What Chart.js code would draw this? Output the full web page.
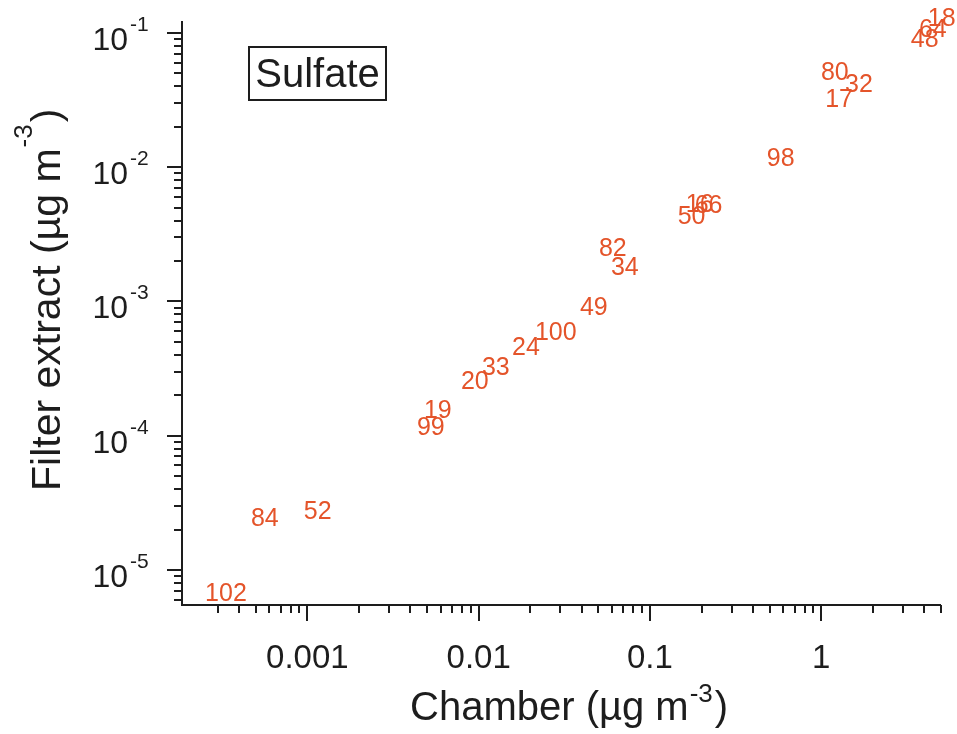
<!DOCTYPE html>
<html>
<head>
<meta charset="utf-8">
<title>Sulfate</title>
<script src="https://cdn.jsdelivr.net/npm/chart.js@4.4.1/dist/chart.umd.min.js"></script>
<style>
  html, body { margin: 0; padding: 0; background: #fff; }
  #wrap { width: 957px; height: 734px; }
</style>
</head>
<body>
<div id="wrap"><canvas id="sulfateChart" width="957" height="734"></canvas></div>
<script>
// run numbers, drawn as the markers themselves
const runIds = ['102', '84', '52', '99', '19', '20', '33', '24', '100', '49', '82',
                '34', '50', '16', '66', '98', '80', '32', '17', '48', '64', '18'];
// chamber concentration (ug m-3)
const chamber = [0.000335, 0.000565, 0.00115, 0.00526, 0.00578, 0.0095, 0.0126, 0.0189,
                 0.0282, 0.047, 0.0607, 0.0713, 0.175, 0.195, 0.22, 0.58, 1.2, 1.66,
                 1.27, 4.02, 4.48, 5.05];
// filter extract concentration (ug m-3)
const filterExtract = [6.74e-6, 2.44e-5, 2.75e-5, 1.16e-4, 1.56e-4, 2.56e-4, 3.25e-4,
                       4.58e-4, 5.93e-4, 9.1e-4, 2.5e-3, 1.81e-3, 4.33e-3, 5.32e-3,
                       5.23e-3, 1.17e-2, 5.12e-2, 4.17e-2, 3.22e-2, 9.02e-2, 0.107, 0.129];

const xTickValues = [0.001, 0.01, 0.1, 1];
const xTickLabels = ['0.001', '0.01', '0.1', '1'];
const yTickExponents = [-1, -2, -3, -4, -5];

const FONT = '"Liberation Sans", Arial, Helvetica, sans-serif';
const INK = '#1d1d1d';
const RUN_COLOR = 'rgb(228, 84, 42)';

function font(size) {
    return size + 'px ' + FONT;
}

// 1..9 x 10^n inside [min, max]
function logTicks(min, max) {
    const out = [];
    for (let e = Math.floor(Math.log10(min)); e <= Math.ceil(Math.log10(max)); e++) {
        for (let m = 1; m <= 9; m++) {
            const v = m * Math.pow(10, e);
            if (v >= min && v <= max) out.push({ value: v, major: m === 1 });
        }
    }
    return out;
}

// text with a raised "-3" and closing bracket, starting at (0, 0)
function unitTitle(ctx, text, size, supSize, supRise) {
    ctx.font = font(size);
    ctx.fillText(text, 0, 0);
    let x = ctx.measureText(text).width + 1;
    ctx.font = font(supSize);
    ctx.fillText('-3', x, -supRise);
    x += ctx.measureText('-3').width + 2;
    ctx.font = font(size);
    ctx.fillText(')', x, 0);
}

const axesPlugin = {
    id: 'igorAxes',
    afterDraw(chart) {
        const ctx = chart.ctx;
        const area = chart.chartArea;
        const xs = chart.scales.x;
        const ys = chart.scales.y;

        ctx.save();
        ctx.strokeStyle = INK;
        ctx.fillStyle = INK;
        ctx.lineWidth = 2;

        // axis lines
        ctx.beginPath();
        ctx.moveTo(area.left, area.top);
        ctx.lineTo(area.left, area.bottom + 1);
        ctx.moveTo(area.left - 1, area.bottom);
        ctx.lineTo(area.right, area.bottom);
        ctx.stroke();

        // tick marks
        ctx.beginPath();
        logTicks(ys.min, ys.max).forEach(t => {
            const py = Math.round(ys.getPixelForValue(t.value));
            const len = t.major ? 15 : 8;
            ctx.moveTo(area.left - len, py);
            ctx.lineTo(area.left, py);
        });
        logTicks(xs.min, xs.max).forEach(t => {
            const px = Math.round(xs.getPixelForValue(t.value));
            if (px < area.left + 8) return;
            const len = t.major ? 16 : 8;
            ctx.moveTo(px, area.bottom);
            ctx.lineTo(px, area.bottom + len);
        });
        ctx.stroke();

        // y tick labels: 10 with a raised exponent
        yTickExponents.forEach(e => {
            const py = ys.getPixelForValue(Math.pow(10, e));
            ctx.textBaseline = 'alphabetic';
            ctx.textAlign = 'right';
            ctx.font = font(32);
            ctx.fillText('10', area.left - 54, py + 17);
            ctx.textAlign = 'left';
            ctx.font = font(21);
            ctx.fillText('-' + Math.abs(e), area.left - 52, py - 2);
        });

        // x tick labels
        ctx.font = font(33);
        ctx.textAlign = 'center';
        xTickValues.forEach((v, i) => {
            ctx.fillText(xTickLabels[i], xs.getPixelForValue(v), 668);
        });

        ctx.textAlign = 'left';

        // x title
        ctx.save();
        ctx.translate(410, 720);
        unitTitle(ctx, 'Chamber (\u00b5g m', 40, 26, 18);
        ctx.restore();

        // y title, reading upward
        ctx.save();
        ctx.translate(60, 491);
        ctx.rotate(-Math.PI / 2);
        unitTitle(ctx, 'Filter extract (\u00b5g m', 41, 26, 28);
        ctx.restore();

        // species tag
        ctx.lineWidth = 2;
        ctx.strokeRect(249, 47, 137, 53);
        ctx.font = font(40);
        ctx.textAlign = 'center';
        ctx.fillText('Sulfate', 317.5, 87);

        ctx.restore();
    }
};

const runLabels = {
    id: 'runLabels',
    afterDatasetsDraw(chart) {
        const ctx = chart.ctx;
        const meta = chart.getDatasetMeta(0);
        ctx.save();
        ctx.font = font(25);
        ctx.fillStyle = RUN_COLOR;
        ctx.textAlign = 'center';
        ctx.textBaseline = 'middle';
        meta.data.forEach((pt, i) => {
            ctx.fillText(runIds[i], pt.x, pt.y + 1);
        });
        ctx.restore();
    }
};

const points = chamber.map((c, i) => ({ x: c, y: filterExtract[i] }));

new Chart(document.getElementById('sulfateChart'), {
    type: 'scatter',
    data: {
        datasets: [{
            label: 'Sulfate',
            data: points,
            pointRadius: 0,
            pointHoverRadius: 0,
            showLine: false
        }]
    },
    options: {
        responsive: false,
        animation: false,
        layout: { padding: { top: 21, right: 16, left: 0, bottom: 0 } },
        plugins: {
            legend: { display: false },
            tooltip: { enabled: false }
        },
        scales: {
            x: {
                type: 'logarithmic',
                min: 1.855e-4,
                max: 5,
                ticks: { display: false },
                grid: { display: false },
                border: { display: false },
                afterFit(scale) { scale.height = 129; }
            },
            y: {
                type: 'logarithmic',
                min: 5.48e-6,
                max: 0.1228,
                ticks: { display: false },
                grid: { display: false },
                border: { display: false },
                afterFit(scale) { scale.width = 182; }
            }
        }
    },
    plugins: [axesPlugin, runLabels]
});
</script>
</body>
</html>
